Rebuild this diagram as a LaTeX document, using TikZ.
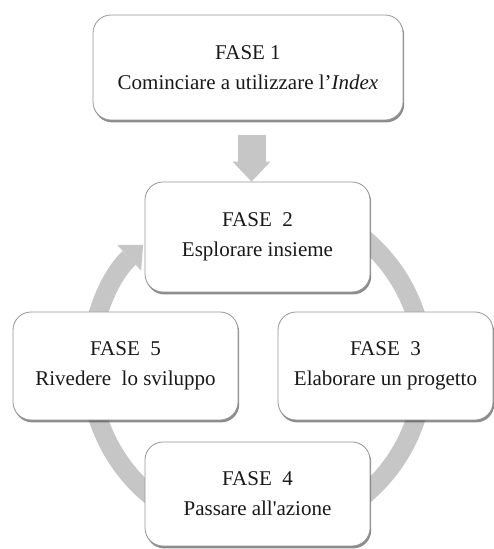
\documentclass[tikz,border=0pt]{standalone}
\usepackage{fontspec}
\setmainfont{Liberation Serif}
\usetikzlibrary{arrows.meta,shadows,calc}
\definecolor{flowgray}{RGB}{198,198,198}
\definecolor{boxline}{RGB}{150,150,150}
\definecolor{txt}{RGB}{25,25,25}
\tikzset{
  phase/.style={draw=boxline, line width=0.8pt, fill=white, rounded corners=18pt,
    align=center, text=txt, font=\fontsize{21}{30}\selectfont, inner sep=0pt,
    drop shadow={shadow xshift=1.2pt, shadow yshift=-2.4pt, fill=black!75, opacity=0.6}},
  flow/.style={draw=flowgray, line cap=butt},
}
\begin{document}
\begin{tikzpicture}[x=1pt,y=1pt]
\useasboundingbox (0,0) rectangle (494,549);

% circular cycle arrow behind phases 2-5
\coordinate (hub) at (257,182);
\draw[flow, line width=19pt, -{Triangle[width=35pt,length=19pt,line width=0pt]}]
  ($(hub)+(60:167)$) arc[start angle=60, end angle=-227, radius=167];

% phase boxes
\node[phase, minimum width=310pt, minimum height=105pt] (b1) at (248,481.5)
  {FASE 1\\Cominciare a utilizzare l'\textit{Index}};
\node[phase, minimum width=225pt, minimum height=110pt] (b2) at (257.5,312)
  {FASE~ 2\\Esplorare insieme};
\node[phase, minimum width=215pt, minimum height=108pt] (b3) at (385.5,183)
  {FASE~ 3\\Elaborare un progetto};
\node[phase, minimum width=225pt, minimum height=104pt] (b4) at (257.5,55)
  {FASE~ 4\\Passare all\textquotesingle azione};
\node[phase, minimum width=225pt, minimum height=108pt] (b5) at (125.5,183)
  {FASE~ 5\\Rivedere~ lo sviluppo};

% entry arrow from phase 1 into the cycle
\coordinate (dtop) at ($(b1.south)+(3.5,-15)$);
\coordinate (dtip) at (dtop |- b2.north);
\draw[flow, line width=28pt, -{Triangle[width=38pt,length=20pt,line width=0pt]}] (dtop) -- (dtip);
\end{tikzpicture}
\end{document}
